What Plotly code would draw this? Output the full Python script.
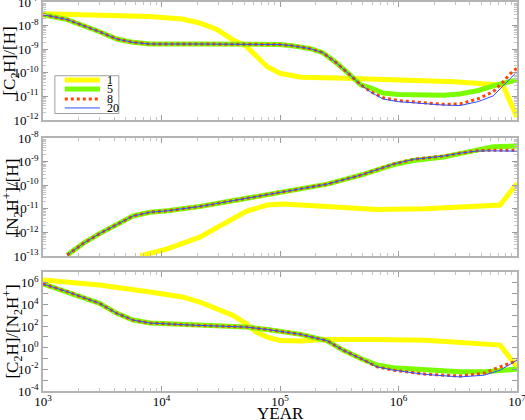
import plotly.graph_objects as go
from plotly.subplots import make_subplots

# legend names and line styles of the models
models = ["1", "5", "8", "20"]
colors = ["#ffff00", "#7cfc00", "#ff4500", "#2f4fff"]
widths = [5, 5, 3, 1]
dashes = ["solid", "solid", "dot", "solid"]

# ---- panel 1 : [C2H]/[H]
years_p1 = [1e3, 1.6e3, 3e3, 4.2e3, 5.75e3, 8e3, 2e4, 6e4, 1e5, 1.3e5, 1.8e5, 2.3e5, 3e5,
            3.9e5, 4.8e5, 5.8e5, 7.4e5, 1e6, 1.6e6, 2.4e6, 3.3e6, 4.7e6, 6.3e6, 7.6e6, 8.7e6, 1e7]
years_p1_m1 = [1e3, 3e3, 8e3, 1.5e4, 2.1e4, 2.95e4, 4e4, 5.2e4, 6.5e4, 7.8e4, 1e5, 1.5e5, 3e5,
               1e6, 3e6, 6.3e6, 7.6e6, 1e7]
c2h_h_1 = [3.2e-8, 2.95e-8, 2.45e-8, 1.9e-8, 1.29e-8, 6.8e-9, 2.5e-9, 1.32e-9, 4.2e-10, 1.8e-10,
           9.5e-11, 6.5e-11, 6.0e-11, 5.2e-11, 4.2e-11, 3.2e-11, 2.95e-11, 1.3e-12]
c2h_h_5 = [2.9e-8, 1.8e-8, 5.5e-9, 2.7e-9, 1.95e-9, 1.66e-9, 1.66e-9, 1.66e-9, 1.58e-9, 1.38e-9,
           1.05e-9, 7.1e-10, 2.6e-10, 8.1e-11, 3.1e-11, 2.3e-11, 1.38e-11, 1.2e-11, 1.12e-11,
           1.12e-11, 1.26e-11, 1.78e-11, 2.8e-11, 3.5e-11, 4.3e-11, 5.0e-11]
c2h_h_8 = [2.9e-8, 1.8e-8, 5.5e-9, 2.7e-9, 1.95e-9, 1.66e-9, 1.66e-9, 1.66e-9, 1.58e-9, 1.38e-9,
           1.05e-9, 7.1e-10, 2.6e-10, 8.1e-11, 3.1e-11, 1.62e-11, 8.7e-12, 6.6e-12, 5.4e-12,
           4.6e-12, 4.8e-12, 7.9e-12, 1.58e-11, 4.0e-11, 8.9e-11, 1.58e-10]
c2h_h_20 = [2.9e-8, 1.8e-8, 5.5e-9, 2.7e-9, 1.95e-9, 1.66e-9, 1.66e-9, 1.66e-9, 1.58e-9, 1.38e-9,
            1.05e-9, 7.1e-10, 2.6e-10, 8.1e-11, 3.1e-11, 1.55e-11, 7.8e-12, 6.0e-12, 5.0e-12,
            4.3e-12, 4.1e-12, 6.0e-12, 1.05e-11, 2.8e-11, 5.6e-11, 1.12e-10]

# ---- panel 2 : [N2H+]/[H]
years_p2 = [1.6e3, 2.2e3, 3e3, 4.2e3, 5.75e3, 8e3, 1.12e4, 2.1e4, 5.2e4, 1.5e5, 2.5e5, 4.8e5,
            9e5, 1.33e6, 2.4e6, 3.3e6, 4.6e6, 6.3e6, 1e7]
years_p2_m1 = [6.6e3, 1.12e4, 2.1e4, 4e4, 5.2e4, 7.8e4, 1.05e5, 1.5e5, 2.5e5, 6.6e5, 1.7e6,
               7.2e6, 1e7]
n2hp_h_1 = [1.0e-13, 2.0e-13, 6.3e-13, 3.5e-12, 7.9e-12, 1.45e-11, 1.6e-11, 1.45e-11, 1.23e-11,
            9.5e-12, 1.0e-11, 1.45e-11, 1.2e-10]
n2hp_h_5 = [1.1e-13, 3.5e-13, 8.9e-13, 2.2e-12, 5.0e-12, 7.2e-12, 8.3e-12, 1.26e-11, 2.75e-11,
            6.8e-11, 1.12e-10, 2.7e-10, 7.4e-10, 1.12e-9, 1.6e-9, 2.2e-9, 3.2e-9, 4.3e-9, 4.7e-9]
n2hp_h_8 = [1.1e-13, 3.5e-13, 8.9e-13, 2.2e-12, 5.0e-12, 7.2e-12, 8.3e-12, 1.26e-11, 2.75e-11,
            6.8e-11, 1.12e-10, 2.7e-10, 7.8e-10, 1.26e-9, 1.74e-9, 2.3e-9, 2.95e-9, 3.1e-9, 3.1e-9]
n2hp_h_20 = [1.1e-13, 3.5e-13, 8.9e-13, 2.2e-12, 5.0e-12, 7.2e-12, 8.3e-12, 1.26e-11, 2.75e-11,
             6.8e-11, 1.12e-10, 2.7e-10, 7.8e-10, 1.26e-9, 1.74e-9, 2.3e-9, 2.85e-9, 2.9e-9, 2.8e-9]

# ---- panel 3 : [C2H]/[N2H+]
years_p3 = [1e3, 1.6e3, 3e3, 4.2e3, 5.75e3, 8e3, 2.1e4, 5.2e4, 7.8e4, 1.5e5, 2.5e5, 3.4e5, 4.8e5,
            6.6e5, 9e5, 1.7e6, 3.3e6, 5.3e6, 7.2e6, 1e7]
years_p3_m1 = [1e3, 3e3, 8e3, 1.5e4, 2.1e4, 2.95e4, 4e4, 5.2e4, 6.3e4, 7.8e4, 1e5, 1.5e5, 2.5e5,
               6.6e5, 1.7e6, 7.2e6, 1e7]
ratio_1 = [1.8e6, 6.3e5, 1.4e5, 4.9e4, 1.66e4, 4.0e3, 980, 160, 27.5, 9.5, 4.7, 4.1, 5.9, 5.9,
           5.0, 1.74, 0.017]
ratio_5 = [7.8e5, 1.5e5, 1.26e4, 1.5e3, 360, 190, 115, 81, 49, 17, 4.4, 0.6, 0.10, 0.025, 0.014,
           8.5e-3, 5.9e-3, 5.9e-3, 7.1e-3, 0.0105]
ratio_8 = [7.8e5, 1.5e5, 1.26e4, 1.5e3, 360, 190, 115, 81, 49, 17, 4.4, 0.6, 0.10, 0.017, 8.5e-3,
           3.6e-3, 2.4e-3, 4.5e-3, 0.017, 0.063]
ratio_20 = [7.8e5, 1.5e5, 1.26e4, 1.5e3, 360, 190, 115, 81, 49, 17, 4.4, 0.6, 0.10, 0.017, 8.5e-3,
            3.4e-3, 2.0e-3, 2.9e-3, 8.5e-3, 0.071]

panels = [
    ([years_p1_m1, years_p1, years_p1, years_p1], [c2h_h_1, c2h_h_5, c2h_h_8, c2h_h_20]),
    ([years_p2_m1, years_p2, years_p2, years_p2], [n2hp_h_1, n2hp_h_5, n2hp_h_8, n2hp_h_20]),
    ([years_p3_m1, years_p3, years_p3, years_p3], [ratio_1, ratio_5, ratio_8, ratio_20]),
]

y_titles = ["[C<sub>2</sub>H]/[H]", "[N<sub>2</sub>H<sup>+</sup>]/[H]",
            "[C<sub>2</sub>H]/[N<sub>2</sub>H<sup>+</sup>]"]
y_ranges = [[-12, -7], [-13, -8], [-4, 7]]
x_exps = [3, 4, 5, 6, 7]

FONT = "Liberation Serif"
FRAME = "#b4b4b4"

fig = make_subplots(rows=3, cols=1, shared_xaxes=True, vertical_spacing=0.0)

for row, (xs, ys) in enumerate(panels, start=1):
    for i in range(len(models)):
        fig.add_trace(go.Scatter(
            x=xs[i], y=ys[i], mode="lines", name=models[i], showlegend=False,
            line=dict(color=colors[i], width=widths[i], dash=dashes[i]),
        ), row=row, col=1)

domains = [[0.6967, 1.0], [0.347, 0.650], [0.0, 0.306]]
for row in range(1, 4):
    lo, hi = y_ranges[row - 1]
    exps = list(range(lo, hi + 1))
    if row == 3:
        labels = ["10<sup>%d</sup>" % e if e % 2 == 0 else "" for e in exps]
        minor = dict(ticks="")
    else:
        labels = ["10<sup>%d</sup>" % e for e in exps]
        minor = dict(ticks="inside", ticklen=3, tickcolor="#c4c4c4", dtick="D1")
    fig.update_yaxes(
        type="log", range=[lo, hi], domain=domains[row - 1],
        tickmode="array", tickvals=[10.0 ** e for e in exps], ticktext=labels,
        ticks="inside", ticklen=5, tickcolor="#9a9a9a", minor=minor,
        showline=True, linecolor=FRAME, linewidth=1.5, mirror="allticks",
        showgrid=False, zeroline=False, automargin=False, ticklabeloverflow="allow",
        tickfont=dict(family=FONT, size=13, color="black"),
        title=dict(text=y_titles[row - 1], font=dict(family=FONT, size=17, color="black"),
                   standoff=3),
        row=row, col=1)
    fig.update_xaxes(
        type="log", range=[3, 7],
        tickmode="array", tickvals=[10.0 ** e for e in x_exps],
        ticktext=["10<sup>%d</sup>" % e for e in x_exps],
        showticklabels=(row == 3), ticklabelstandoff=-2,
        ticks="inside", ticklen=5, tickcolor="#9a9a9a",
        minor=dict(ticks="inside", ticklen=3, tickcolor="#c4c4c4", dtick="D1"),
        showline=True, linecolor=FRAME, linewidth=1.5, mirror="allticks",
        showgrid=False, zeroline=False, automargin=False, ticklabeloverflow="allow",
        tickfont=dict(family=FONT, size=13, color="black"),
        row=row, col=1)

# x axis title under the bottom panel
fig.add_annotation(xref="paper", yref="paper", x=0.5, y=-0.057, text="YEAR", showarrow=False,
                   xanchor="center", yanchor="middle",
                   font=dict(family=FONT, size=17, color="black"))

# legend box inside the top panel
fig.add_shape(type="rect", xref="x domain", yref="y domain", x0=0.025, x1=0.16, y0=0.055,
              y1=0.375, line=dict(color="#a0a0a0", width=1))
row_pos = [0.339, 0.263, 0.178, 0.102]
for i in range(len(models)):
    fig.add_shape(type="line", xref="x domain", yref="y domain", x0=0.046, x1=0.12,
                  y0=row_pos[i], y1=row_pos[i],
                  line=dict(color=colors[i], width=widths[i], dash=dashes[i]))
    fig.add_annotation(xref="x domain", yref="y domain", x=0.133, y=row_pos[i], text=models[i],
                       showarrow=False, xanchor="left", yanchor="middle", borderpad=0,
                       font=dict(family=FONT, size=12, color="black"))

fig.update_layout(
    width=525, height=420,
    margin=dict(l=43, r=8, t=2, b=29),
    paper_bgcolor="white", plot_bgcolor="white",
    showlegend=False,
)

# drop the default page margin so the figure sits at the window corner
fig.write_html("out.html", config={"displayModeBar": False},
               post_script="document.body.style.margin='0px';")
